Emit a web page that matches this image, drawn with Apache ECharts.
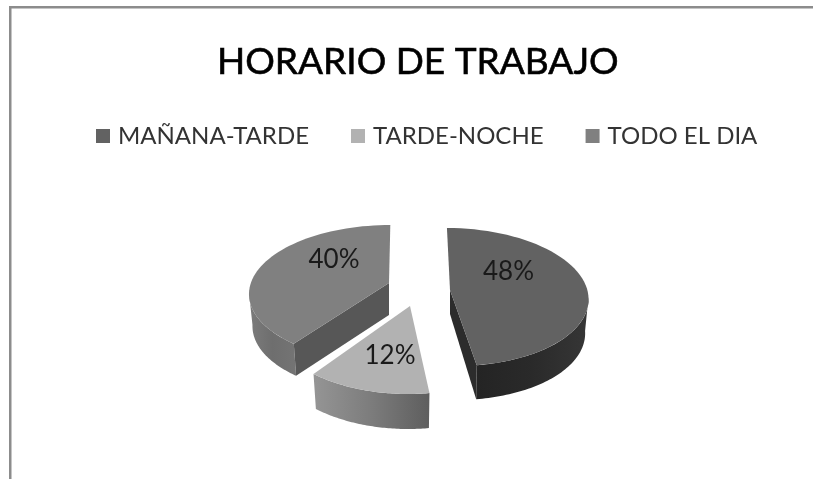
<!DOCTYPE html>
<html><head><meta charset="utf-8">
<style>html,body{margin:0;padding:0;background:#fff}#c{width:813px;height:479px}</style>
<script src="https://cdn.jsdelivr.net/npm/echarts@6/dist/echarts.min.js"></script>
</head><body><div id="c"></div>
<script>
const categories = ['MAÑANA-TARDE', 'TARDE-NOCHE', 'TODO EL DIA'];
const shares = [48, 12, 40];
const titleText = 'HORARIO DE TRABAJO';

const topColors = ['#626262', '#b2b2b2', '#808080'];
const layouts = [
  {cx:451.5, cy:297, rx:137, ry:69, shear:0.066, ax:450, ay:290, depth:34, apexDepth:24, lx:57, ly:-25,
   cut:'#2c2c2c', cutSide:'end', wall:['#242424','#2a2a2a','#363636']},
  {cx:408, cy:315, rx:142, ry:79, shear:0, ax:410, ay:306, depth:35, apexDepth:0, lx:-18, ly:41,
   cut:null, cutSide:null, wall:['#959595','#7c7c7c','#5e5e5e']},
  {cx:388, cy:293, rx:139, ry:68, shear:-0.034, ax:389, ay:283, depth:32, apexDepth:32, lx:-54, ly:-33,
   cut:'#575757', cutSide:'start', wall:['#7c7c7c','#6e6e6e','#747474']}
];
const total = shares.reduce((a,b)=>a+b,0);
function warp(deg){ return deg + 6*Math.sin(2*deg*Math.PI/180); }
function pt(l,deg,k,dy){
  const t=deg*Math.PI/180;
  const sy=-l.ry*Math.cos(t);
  return [l.cx + k*l.rx*Math.sin(t) + l.shear*sy, l.cy + sy + dy];
}
function arc(l,a,b,k,dy){
  const out=[], n=60;
  for(let i=0;i<=n;i++) out.push(pt(l,a+(b-a)*i/n,k,dy));
  return out;
}
function renderSlice(idx){
  return function(){
    const l=layouts[idx];
    const before=shares.slice(0,idx).reduce((a,b)=>a+b,0);
    const s=warp(before/total*360), e=warp((before+shares[idx])/total*360);
    const children=[];
    const a=Math.max(s,90), b=Math.min(e,270);
    if(b>a){
      const up=arc(l,a,b,1,0), low=arc(l,a,b,0.975,l.depth).reverse();
      const cols=l.wall;
      children.push({type:'polygon',shape:{points:up.concat(low)},style:{
        fill:{type:'linear',x:0,y:0,x2:1,y2:0,colorStops:[
          {offset:0,color:cols[0]},{offset:.5,color:cols[1]},{offset:1,color:cols[2]}]}}});
    }
    if(l.cut){
      const edge=l.cutSide==='end'?e:s;
      const p=pt(l,edge,1,0), q=pt(l,edge,0.975,l.depth);
      children.push({type:'polygon',shape:{points:[[l.ax,l.ay],p,q,[l.ax,l.ay+l.apexDepth]]},style:{fill:l.cut}});
    }
    children.push({type:'polygon',shape:{points:[[l.ax,l.ay]].concat(arc(l,s,e,1,0))},style:{fill:topColors[idx]}});
    children.push({type:'text',style:{text:Math.round(shares[idx]/total*100)+'%',x:l.cx+l.lx,y:l.cy+l.ly,
      fill:'#1a1a1a',font:'26px Lato',align:'center',verticalAlign:'middle'}});
    return {type:'group',children};
  };
}
const chart=echarts.init(document.getElementById('c'),null,{renderer:'canvas'});
chart.setOption({
  animation:false,
  backgroundColor:'#fff',
  title:{text:titleText,left:212,top:39,
    textStyle:{fontFamily:'Lato',fontWeight:'normal',fontSize:37,color:'#000',textBorderColor:'#000',textBorderWidth:0.6}},
  legend:{data:categories,left:91,top:119,itemWidth:14,itemHeight:14,itemGap:42,icon:'rect',
    textStyle:{fontFamily:'Lato',fontSize:24,color:'#333',padding:[0,0,0,3]}},
  graphic:[
    {type:'rect',shape:{x:9,y:6,width:804,height:2.5},style:{fill:'#8c8c8c'},silent:true},
    {type:'rect',shape:{x:9,y:6,width:2.5,height:473},style:{fill:'#8c8c8c'},silent:true}
  ],
  series:categories.map((name,i)=>({
    type:'custom',name,coordinateSystem:'none',
    data:[[shares[i]]],
    itemStyle:{color:topColors[i]},
    renderItem:renderSlice(i)
  }))
});
</script></body></html>
